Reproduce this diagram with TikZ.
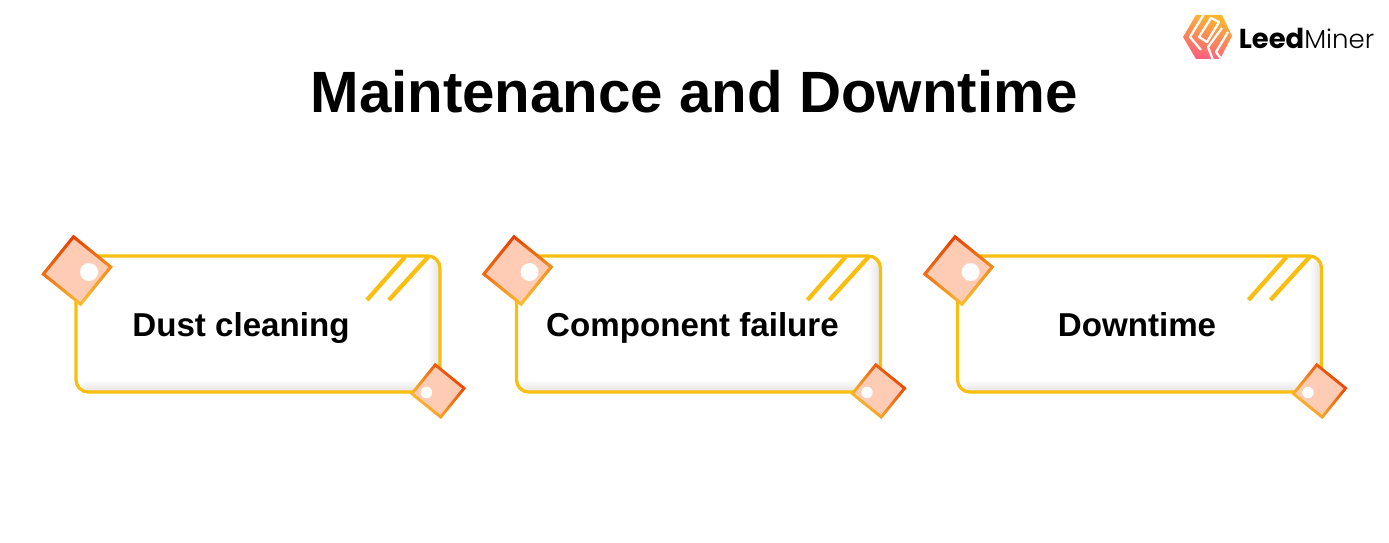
\documentclass[tikz,border=0pt]{standalone}
\usepackage{fontspec}
\setmainfont{Liberation Sans}
\newfontfamily\logofont{Poppins}
\usepackage{xcolor}
\usetikzlibrary{positioning,calc}
\definecolor{cardYellow}{HTML}{F9BE0E}
\definecolor{tagRed}{HTML}{E63C00}
\definecolor{tagYellow}{HTML}{FBC232}
\definecolor{tagPeach}{HTML}{FECBB5}
\definecolor{logoOrange}{HTML}{FDB62C}
\definecolor{logoPink}{HTML}{F95F7E}
\tikzset{
  cardBox/.style={
    rectangle,
    rounded corners=0.24cm,
    draw=cardYellow,
    line width=0.065cm,
    outer sep=0pt,
    fill=white,
    minimum width=7.28cm,
    minimum height=2.72cm,
    path picture={
      \foreach \k in {1,...,5}{
        \fill[black,opacity=0.02] ($(path picture bounding box.south east)+(-2.2*\k,0)$) rectangle (path picture bounding box.north east);
        \fill[black,opacity=0.02] ($(path picture bounding box.south west)+(0,-2.2*\k)$) rectangle (path picture bounding box.south east);
      }
    }
  },
  cardLabel/.style={
    font=\fontsize{18.85pt}{22pt}\selectfont\bfseries,
    inner sep=0pt,
    text height=0.5cm,
    text depth=0.12cm
  },
  stripeLine/.style={
    draw=cardYellow,
    line width=0.085cm
  },
  logoLine/.style={
    draw=white,
    line width=0.045cm,
    line join=round
  },
  tagOuter/.style={
    rectangle,
    rotate=-39,
    outer sep=0pt,
    inner sep=0pt,
    top color=tagRed,
    bottom color=tagYellow,
    shading angle=#1
  },
  tagInner/.style={
    rectangle,
    rotate=-39,
    inner sep=0pt,
    fill=tagPeach
  },
  tagDot/.style={
    circle,
    fill=white,
    inner sep=0pt
  }
}
\begin{document}
\begin{tikzpicture}[x=0.02cm,y=-0.02cm]
  \useasboundingbox (0,0) rectangle (1389,543);

  \node[font=\fontsize{33.15pt}{40pt}\selectfont\bfseries,inner sep=0pt] (title) at (694,92) {Maintenance and Downtime};

  % logo
  \shade[bottom color=logoPink,top color=logoOrange,shading angle=-15]
    (1196,15) -- (1222,15) -- (1232,36) -- (1220,59) -- (1196,59) -- (1183,37) -- cycle;
  \draw[logoLine] (1204,14) -- (1190,37) -- (1201,50);
  \draw[logoLine] (1211,18) -- (1199,37) -- (1207,42) -- (1219,22) -- cycle;
  \draw[logoLine] (1222,28) -- (1208,47) -- (1213,60);
  \draw[logoLine] (1228,32) -- (1216,52) -- (1222,60);
  \node[anchor=west,inner sep=0pt] (logo) at (1238.5,38)
    {\logofont\fontsize{15.6pt}{20pt}\selectfont\textbf{Leed}\fontspec{Poppins Light}\fontsize{14.8pt}{20pt}\selectfont Miner};

  \foreach \i/\cardx/\labelx/\labeltext in {1/258/241/Dust cleaning,2/698.5/692.5/Component failure,3/1139.5/1137/Downtime}{
    \node[cardBox] (card\i) at (\cardx,324) {};
    \node[cardLabel] (label\i) at (\labelx,327) {\labeltext};

    \draw[stripeLine] ($(card\i.north east)+(-73,44)$) -- ($(card\i.north east)+(-35,1)$);
    \draw[stripeLine] ($(card\i.north east)+(-51,44)$) -- ($(card\i.north east)+(-12,1)$);

    \node[tagOuter=20,minimum size=1.02cm] (bigtag\i) at ($(card\i.north west)+(1,14.5)$) {};
    \node[tagInner,minimum size=0.89cm] (bigface\i) at (bigtag\i) {};
    \node[tagDot,minimum size=0.36cm] (bigdot\i) at ($(bigtag\i)+(12,1.5)$) {};

    \node[tagOuter=-50,minimum size=0.8cm] (smalltag\i) at ($(card\i.south east)+(-2,-1)$) {};
    \node[tagInner,minimum size=0.68cm] (smallface\i) at (smalltag\i) {};
    \node[tagDot,minimum size=0.23cm] (smalldot\i) at ($(smalltag\i)+(-11.5,1.5)$) {};
  }
\end{tikzpicture}
\end{document}
